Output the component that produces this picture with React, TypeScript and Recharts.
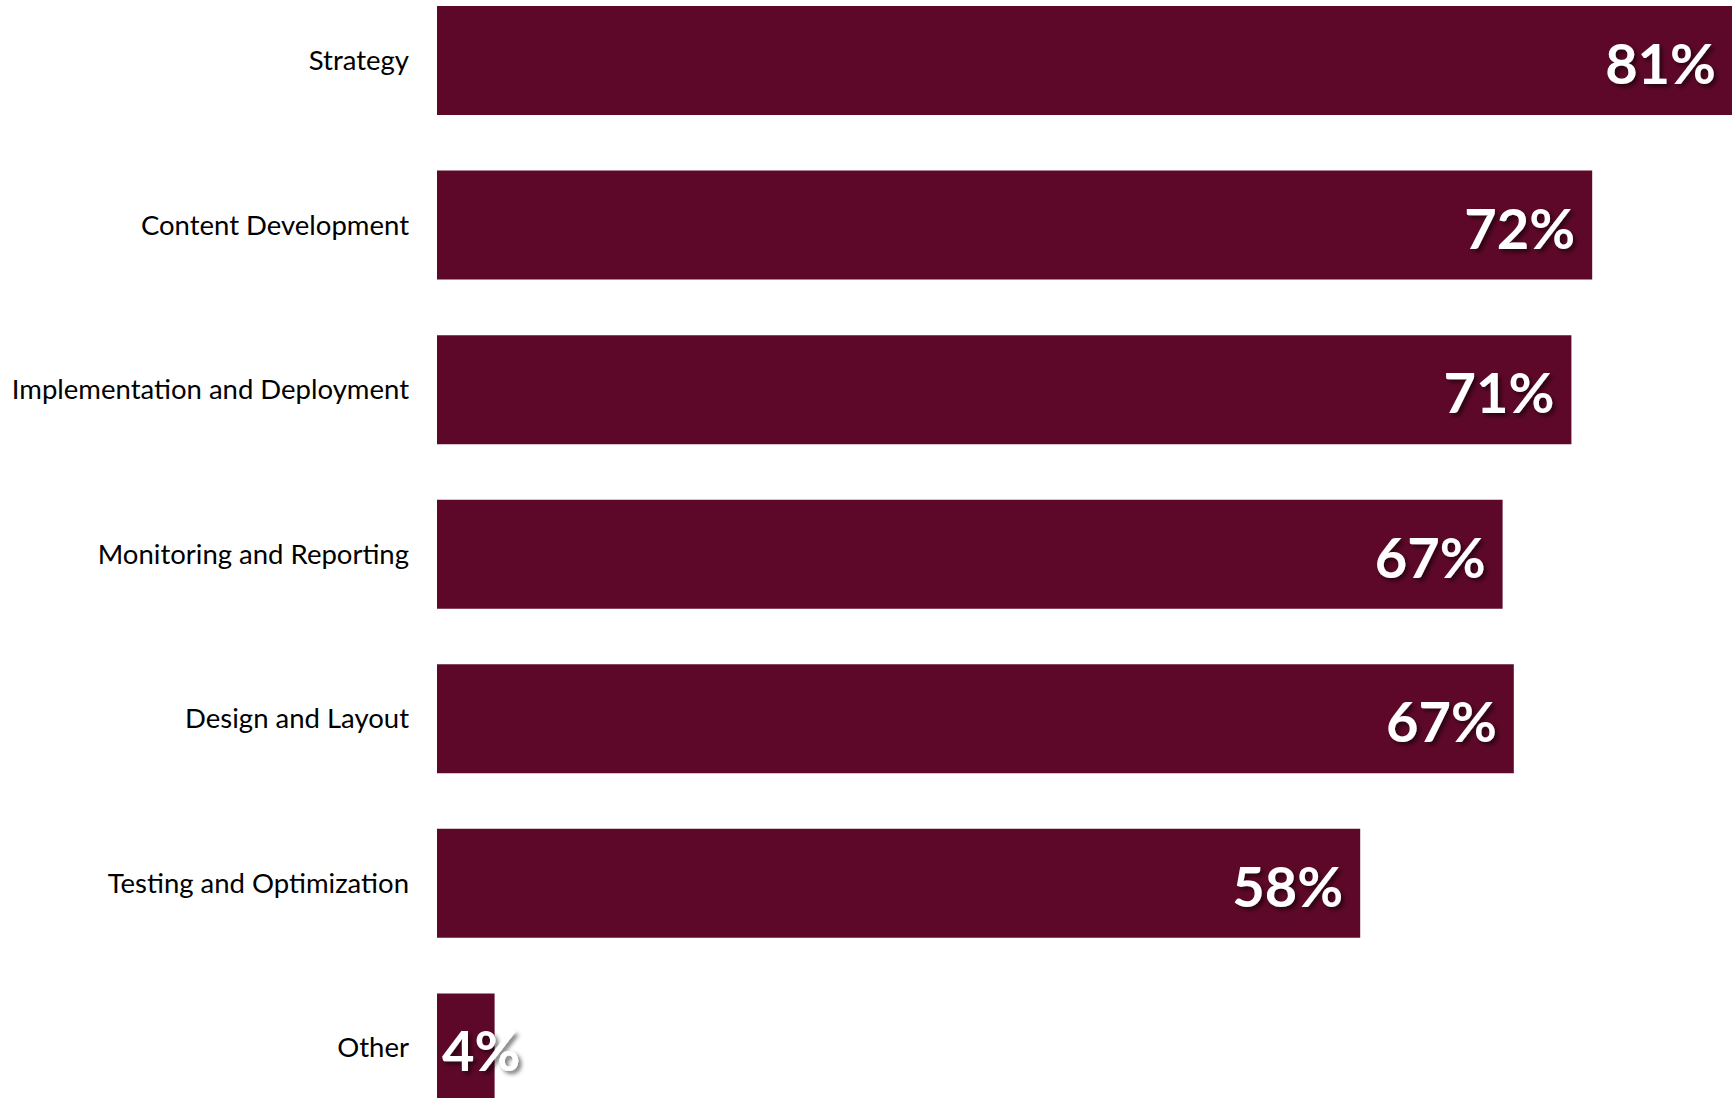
import React from 'react';
import { BarChart, Bar, XAxis, YAxis, LabelList } from 'recharts';

// categories top to bottom
const categories = [
  'Strategy',
  'Content Development',
  'Implementation and Deployment',
  'Monitoring and Reporting',
  'Design and Layout',
  'Testing and Optimization',
  'Other',
];

// share of respondents, in percent
const shares = [81.0, 72.2, 70.9, 66.6, 67.3, 57.7, 3.6];

const data = categories.map((name, i) => ({ name, share: shares[i] }));

const BAR_COLOR = '#5D0828';

const ValueLabel = (props: any) => {
  const { x, y, width, height, value } = props;
  const text = `${Math.round(value)}%`;
  const small = width < 150;
  return (
    <text
      x={small ? x + 5 : x + width - 17}
      y={y + height / 2 + 2}
      textAnchor={small ? 'start' : 'end'}
      dominantBaseline="central"
      fill="#ffffff"
      fontFamily="Lato, 'Open Sans', sans-serif"
      fontWeight={700}
      fontSize={56}
      filter="url(#labelShadow)"
    >
      {text}
    </text>
  );
};

export default function App() {
  return (
    <div
      style={{
        position: 'absolute',
        top: 0,
        left: 0,
        width: 1732,
        height: 1098,
        overflow: 'hidden',
        background: '#ffffff',
      }}
    >
      <div style={{ position: 'absolute', top: -22, left: 0 }}>
        <BarChart
          layout="vertical"
          width={2037}
          height={1152}
          data={data}
          margin={{ top: 0, right: 0, bottom: 0, left: 0 }}
          barSize={109}
        >
          <defs>
            <filter id="labelShadow" x="-20%" y="-20%" width="140%" height="140%">
              <feDropShadow dx="3" dy="3" stdDeviation="2" floodColor="#000000" floodOpacity="0.55" />
            </filter>
          </defs>
          <XAxis type="number" domain={[0, 100]} hide />
          <YAxis
            type="category"
            dataKey="name"
            width={437}
            axisLine={false}
            tickLine={false}
            tickSize={0}
            tickMargin={28}
            interval={0}
            tick={{ fill: '#000000', fontSize: 27.5, fontFamily: "Lato, 'Open Sans', sans-serif" }}
          />
          <Bar dataKey="share" fill={BAR_COLOR} isAnimationActive={false}>
            <LabelList dataKey="share" content={ValueLabel} />
          </Bar>
        </BarChart>
      </div>
    </div>
  );
}
